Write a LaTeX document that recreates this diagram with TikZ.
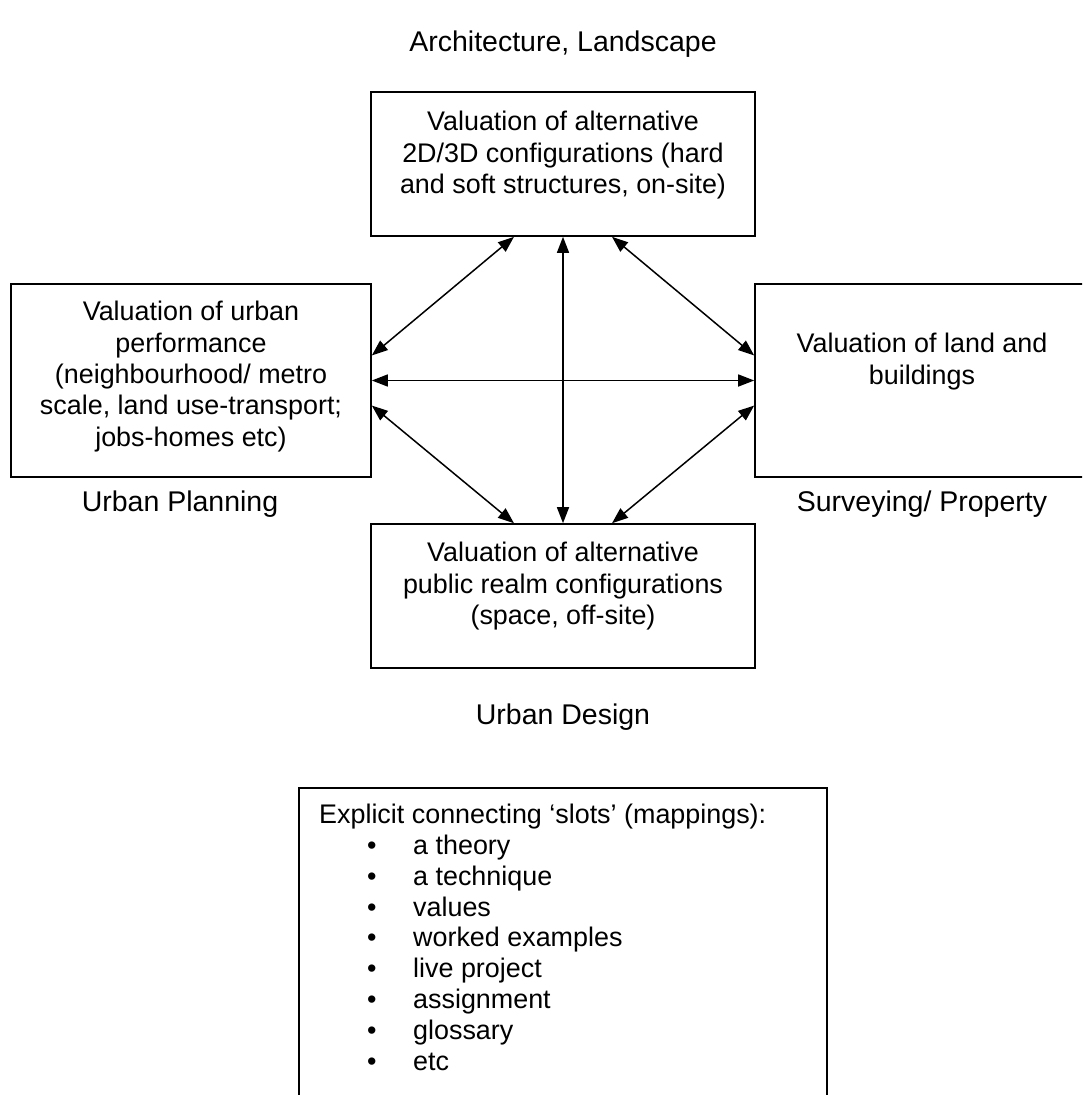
\documentclass[tikz,border=0pt]{standalone}
\usepackage{fontspec}
\setmainfont{Liberation Sans}
\usetikzlibrary{arrows.meta}

\newcommand\slotitem[1]{\hspace*{48pt}\makebox[46pt][l]{\textbullet}#1}

\tikzset{
	valbox/.style = {draw, line width = 1.6pt, inner sep = 0pt},
	valtext/.style = {align = center, inner sep = 0pt, anchor = north, font = \fontsize{26.9}{31.3}\selectfont},
	disc/.style = {inner sep = 0pt, font = \fontsize{28.5}{32}\selectfont},
	twoway/.style = {{Triangle[length=16pt,width=12pt]}-{Triangle[length=16pt,width=12pt]}, line width = 1.5pt}
}

\begin{document}
\begin{tikzpicture}[x=1pt, y=-1pt]
	\path[use as bounding box] (0,0) rectangle (1082,1095);
	\clip (0,0) rectangle (1082,1095);

	% the four valuation boxes
	\node [valbox, minimum width = 384pt, minimum height = 144pt] (arch) at (563,164) {};
	\node [valbox, minimum width = 360pt, minimum height = 193pt] (plan) at (191,380.5) {};
	\node [valbox, minimum width = 334pt, minimum height = 193pt] (survey) at (922,380.5) {};
	\node [valbox, minimum width = 384pt, minimum height = 144pt] (design) at (563,596) {};

	\node [valtext] (archtxt) at ([yshift=-20pt]arch.north) {Valuation of alternative\\ 2D/3D configurations (hard\\ and soft structures, on-site)};
	\node [valtext] (plantxt) at ([yshift=-18pt]plan.north) {Valuation of urban\\ performance\\ (neighbourhood/ metro\\ scale, land use-transport;\\ jobs-homes etc)};
	\node [valtext] (surveytxt) at ([yshift=-50pt]survey.north) {Valuation of land and\\ buildings};
	\node [valtext] (designtxt) at ([yshift=-19pt]design.north) {Valuation of alternative\\ public realm configurations\\ (space, off-site)};

	% disciplines
	\node [disc] (archlbl) at (563,44) {Architecture, Landscape};
	\node [disc] (planlbl) at (180,504) {Urban Planning};
	\node [disc] (surveylbl) at (922,504) {Surveying/ Property};
	\node [disc] (designlbl) at (563,717) {Urban Design};

	% links
	\draw [twoway] ([xshift=-49pt]arch.south) -- ([yshift=25pt]plan.east);
	\draw [twoway] (arch.south) -- (design.north);
	\draw [twoway] ([xshift=49pt]arch.south) -- ([yshift=25pt]survey.west);
	\draw [twoway] (plan.east) -- (survey.west);
	\draw [twoway] ([yshift=-25pt]plan.east) -- ([xshift=-49pt]design.north);
	\draw [twoway] ([yshift=-25pt]survey.west) -- ([xshift=49pt]design.north);

	% slots
	\node [valbox, minimum width = 528pt, minimum height = 322pt] (slots) at (563,949) {};
	\node [disc, font = \fontsize{26.9}{30.8}\selectfont, align = left, anchor = north west] (slotstxt) at (319,804) {Explicit connecting ‘slots’ (mappings):\\
		\slotitem{a theory}\\
		\slotitem{a technique}\\
		\slotitem{values}\\
		\slotitem{worked examples}\\
		\slotitem{live project}\\
		\slotitem{assignment}\\
		\slotitem{glossary}\\
		\slotitem{etc}};
\end{tikzpicture}
\end{document}
